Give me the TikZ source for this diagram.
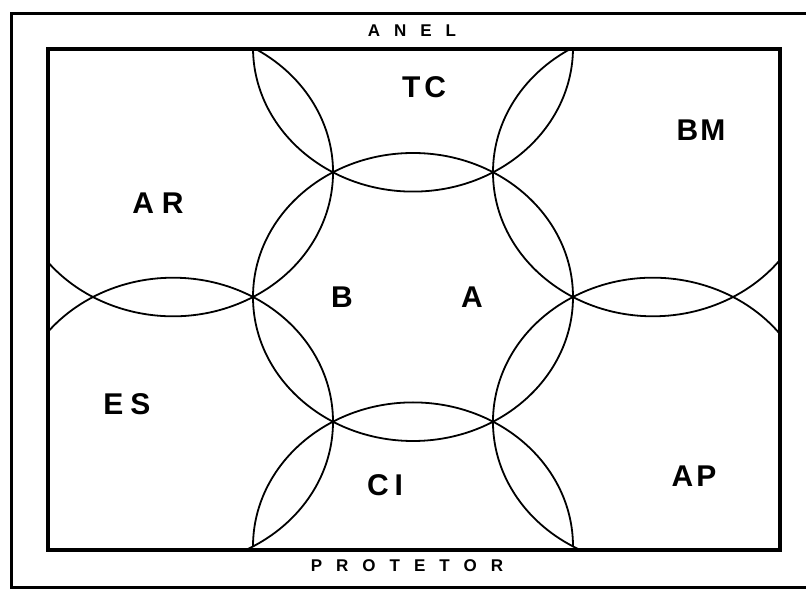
\documentclass[tikz,border=0pt]{standalone}
\usepackage{fontspec}
\setmainfont{Liberation Sans}
\begin{document}
\begin{tikzpicture}[x=1pt,y=1pt,
  arcline/.style={line width=1.8pt},
  innerframe/.style={line width=4pt},
  outerframe/.style={line width=3pt},
  lbl/.style={font=\bfseries\fontsize{30}{30}\selectfont, inner sep=0pt},
  smalllbl/.style={font=\bfseries\fontsize{17}{17}\selectfont, inner sep=0pt},
  ell/.style={x radius=160, y radius=144}]
\useasboundingbox (0,0) rectangle (806,592);
\fill[white] (0,0) rectangle (806,592);
% circles (elliptic arcs)
\coordinate (O) at (413,295);
\coordinate (T) at (413,544.4);
\coordinate (Bc) at (413,45.6);
\coordinate (UR) at (653,419.7);
\coordinate (LR) at (653,170.3);
\coordinate (UL) at (173,419.7);
\coordinate (LL) at (173,170.3);
\begin{scope}
\clip (48,42) rectangle (780,543);
\draw[arcline] (O) ellipse [x radius=160, y radius=144];
\draw[arcline] (T) ++(180:160 and 144) arc[start angle=180, end angle=360, ell];
\draw[arcline] (Bc) ++(0:160 and 144) arc[start angle=0, end angle=180, ell];
\draw[arcline] (UR) ++(90:160 and 144) arc[start angle=90, end angle=330, ell];
\draw[arcline] (LR) ++(30:160 and 144) arc[start angle=30, end angle=270, ell];
\draw[arcline] (UL) ++(-150:160 and 144) arc[start angle=-150, end angle=90, ell];
\draw[arcline] (LL) ++(-90:160 and 144) arc[start angle=-90, end angle=150, ell];
\end{scope}
% frames
\draw[innerframe] (48,42) rectangle (780,543);
\draw[outerframe] (806,578) -- (11,578) -- (11,5) -- (806,5);
% texts
\node[smalllbl] (anel) at (412,561) {A\kern14pt N\kern14pt E\kern14pt L};
\node[smalllbl] (protetor) at (407,26) {P\kern14pt R\kern14pt O\kern14pt T\kern14pt E\kern14pt T\kern14pt O\kern14pt R};
\node[lbl] (tc) at (424,505) {T\kern4pt C};
\node[lbl] (bm) at (701,462) {B\kern2pt M};
\node[lbl] (ar) at (158,389) {A\kern8pt R};
\node[lbl] (b) at (342,295) {B};
\node[lbl] (a) at (472,295) {A};
\node[lbl] (es) at (127,188) {E\kern7pt S};
\node[lbl] (ci) at (385,107) {C\kern6pt I};
\node[lbl] (ap) at (694,116) {A\kern3pt P};
\end{tikzpicture}
\end{document}
